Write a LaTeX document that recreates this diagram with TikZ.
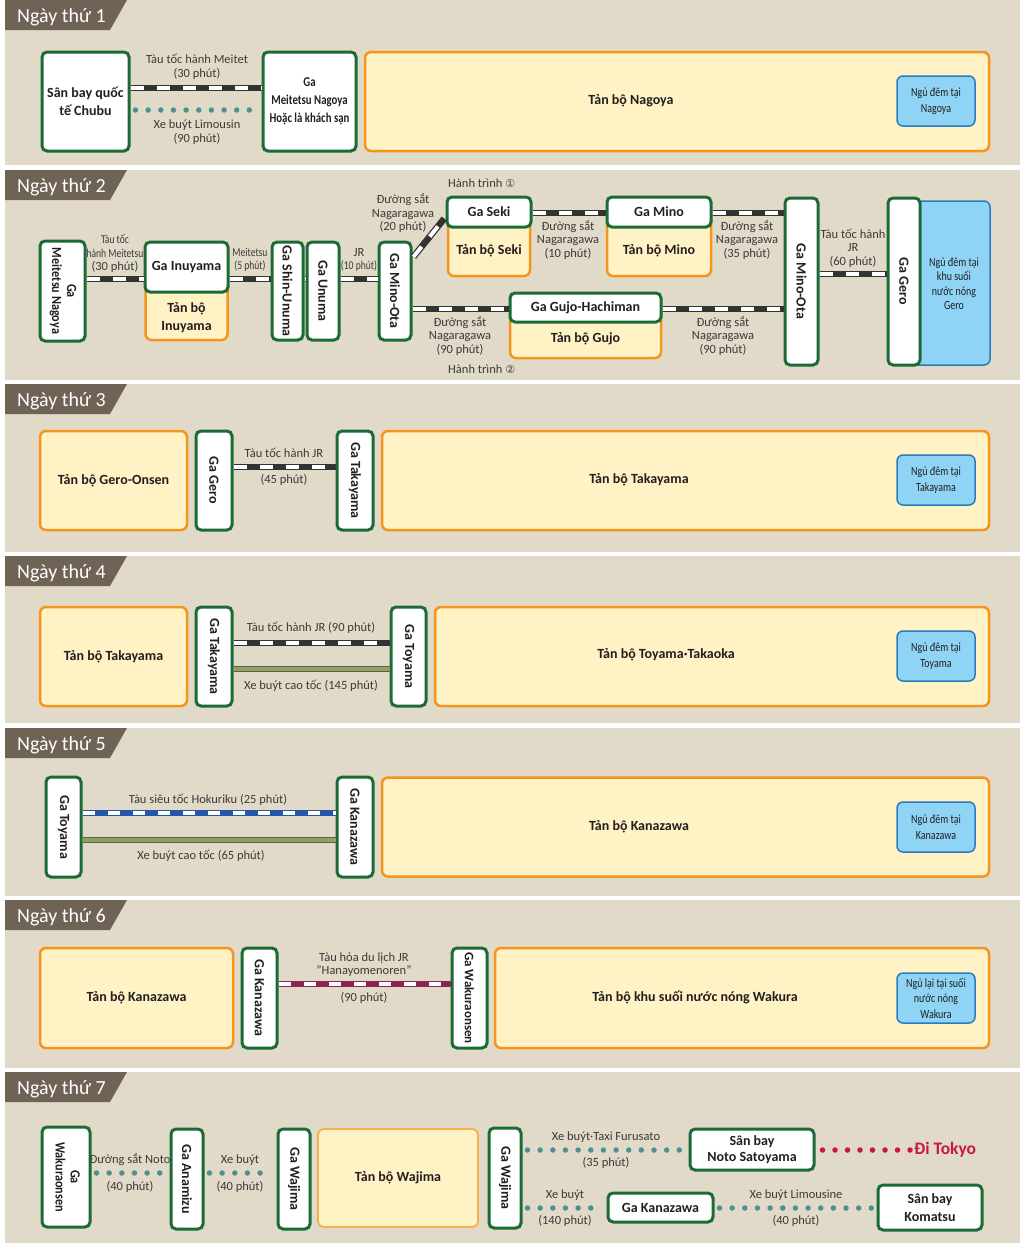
\documentclass[tikz,border=0pt]{standalone}
\usepackage{graphicx}
\usepackage{fontspec}
\setmainfont{Carlito}
\newfontfamily\condf[FakeStretch=0.8]{Carlito}
\newfontfamily\semif[FakeStretch=0.87]{Carlito}
\newfontfamily\symf{DejaVu Sans}
\definecolor{bandc}{HTML}{E2DAC8}
\definecolor{tabc}{HTML}{6E6354}
\definecolor{gr}{HTML}{1B6B37}
\definecolor{og}{HTML}{F7941D}
\definecolor{ogl}{HTML}{F5B04E}
\definecolor{oy}{HTML}{FFF2C5}
\definecolor{bl}{HTML}{8FD4F5}
\definecolor{bb}{HTML}{2B7BC0}
\definecolor{tx}{HTML}{231F20}
\definecolor{lt}{HTML}{3C3A3A}
\definecolor{rk}{HTML}{333333}
\definecolor{rbl}{HTML}{2457A7}
\definecolor{rmr}{HTML}{8B2452}
\definecolor{bgn}{HTML}{8FA35E}
\definecolor{bdk}{HTML}{5E5E52}
\definecolor{tl}{HTML}{4C918D}
\definecolor{rd}{HTML}{C8193D}
\newcommand\fst{\fontsize{14}{18}\selectfont\bfseries}
\newcommand\fstb{\fontsize{14}{16}\selectfont\bfseries}
\newcommand\fsc{\condf\fontsize{13.5}{18}\selectfont\bfseries}
\newcommand\flab{\fontsize{12.5}{13.5}\selectfont}
\newcommand\fcl{\condf\fontsize{12}{13.5}\selectfont}
\newcommand\fbl{\condf\fontsize{12.5}{15.5}\selectfont}
\newcommand\ftab{\fontsize{20}{24}\selectfont}
\newcommand\vt[1]{\rotatebox{-90}{#1}}
\newcommand\vtt[1]{\rotatebox{-90}{\semif\fontsize{14}{15}\selectfont\bfseries\begin{tabular}{@{}c@{}}#1\end{tabular}}}
\tikzset{
  stbox/.style={draw=gr, line width=3pt, fill=white, rounded corners=5pt, inner sep=0pt, align=center, font=\fst, text=tx},
  obox/.style={draw=og, line width=2.5pt, fill=oy, rounded corners=6pt, inner sep=0pt, align=center, font=\fst, text=tx},
  obox2/.style={draw=ogl, line width=1.8pt, fill=oy, rounded corners=6pt, inner sep=0pt, align=center, font=\fst, text=tx},
  otext/.style={font=\fst, text=tx, inner sep=0pt, align=center},
  bbox/.style={draw=bb, line width=1.5pt, fill=bl, rounded corners=6pt, inner sep=0pt, align=center, font=\fbl, text=tx, minimum width=78pt, minimum height=50pt},
  btext/.style={font=\fbl, text=tx, inner sep=0pt, align=center},
  lab/.style={font=\flab, text=lt, align=center, inner sep=0pt},
  tabt/.style={anchor=base west, text=white, font=\ftab, inner sep=0pt},
  rail/.style={draw=rk, line width=6.5pt, postaction={draw=white, line width=4pt, dash pattern=on 13pt off 13pt}},
  railb/.style={draw=rbl, line width=6.5pt, postaction={draw=white, line width=4pt, dash pattern=on 12.5pt off 12.5pt}},
  railm/.style={draw=rmr, line width=6.5pt, postaction={draw=white, line width=4pt, dash pattern=on 12.5pt off 12.5pt}},
  bus/.style={draw=bdk, line width=6pt, postaction={draw=bgn, line width=4pt}},
  dots/.style={draw=tl, line width=5.5pt, line cap=round, dash pattern=on 0pt off 12.65pt, shorten <=5pt, shorten >=4pt},
  rdots/.style={draw=rd, line width=5.5pt, line cap=round, dash pattern=on 0pt off 12.5pt, shorten <=7pt, shorten >=4pt},
  tokyo/.style={anchor=west, text=rd, font=\fontsize{17.5}{20}\selectfont\bfseries, inner sep=0pt}
}
\begin{document}
\begin{tikzpicture}[x=1pt,y=-1pt]
\useasboundingbox (0,0) rectangle (1027,1243);
\fill[white] (0,0) rectangle (1027,1243);
\foreach \a/\b in {0/165,170/380,384/552,556/723,728/896,900/1068,1072/1243}
  \fill[bandc] (5,\a) rectangle (1020,\b);
\foreach \a/\n in {0/1,170/2,384/3,556/4,728/5,900/6,1072/7}{
  \fill[tabc] (5,\a) -- (127,\a) -- (110,\a+30) -- (5,\a+30) -- cycle;
  \node[tabt] (tab\n) at (17,\a+22.5) {Ngày thứ \n};
}
% ---------------- Day 1
\node[stbox, minimum width=87pt, minimum height=99pt] (chubu) at (85.5,101.5) {Sân bay quốc\\tế Chubu};
\node[stbox, minimum width=93pt, minimum height=99pt, font=\fsc] (meit) at (309.5,101.5) {Ga\\Meitetsu Nagoya\\Hoặc là khách sạn};
\node[obox, minimum width=624pt, minimum height=99pt] (nag) at (677,101.5) {};
\node[otext] (nagT) at (631,101) {Tản bộ Nagoya};
\node[bbox] (bl1) at (936,101) {Ngủ đêm tại\\Nagoya};
\draw[rail] (chubu.east |- 0,88) -- (meit.west |- 0,88);
\draw[dots] (chubu.east |- 0,110) -- (meit.west |- 0,110);
\node[lab] (l1a) at (197,67) {Tàu tốc hành Meitet\\(30 phút)};
\node[lab] (l1b) at (197,132) {Xe buýt Limousin\\(90 phút)};
% ---------------- Day 2
\node[stbox, minimum width=45pt, minimum height=100pt] (mnag) at (62.5,291) {\vtt{Ga\\Meitetsu Nagoya}};
\node[obox, minimum width=82pt, minimum height=66pt] (inuyO) at (186.5,307) {};
\node[otext] (inuyT) at (186.5,317.5) {Tản bộ\\Inuyama};
\node[stbox, minimum width=83pt, minimum height=50pt] (inuy) at (186.5,267) {Ga Inuyama};
\node[stbox, minimum width=31pt, minimum height=98pt] (sunu) at (287.5,291) {\vt{Ga Shin-Unuma}};
\node[stbox, minimum width=32pt, minimum height=98pt] (unu) at (323,291) {\vt{Ga Unuma}};
\node[stbox, minimum width=32pt, minimum height=98pt] (mota1) at (395,291) {\vt{Ga Mino-Ota}};
\node[obox, minimum width=82pt, minimum height=66pt] (sekiO) at (489,243) {};
\node[otext] (sekiT) at (489,251) {Tản bộ Seki};
\node[stbox, minimum width=84pt, minimum height=30pt] (seki) at (489,212) {Ga Seki};
\node[obox, minimum width=104pt, minimum height=66pt] (minoO) at (659,243) {};
\node[otext] (minoT) at (659,251) {Tản bộ Mino};
\node[stbox, minimum width=104pt, minimum height=30pt] (mino) at (659,212) {Ga Mino};
\node[obox, minimum width=151pt, minimum height=52pt] (gujoO) at (585.5,332) {};
\node[otext] (gujoT) at (585.5,339) {Tản bộ Gujo};
\node[stbox, minimum width=151pt, minimum height=29pt] (gujo) at (585.5,307.5) {Ga Gujo-Hachiman};
\node[stbox, minimum width=33pt, minimum height=167pt] (mota2) at (801.5,281.5) {\vt{Ga Mino-Ota}};
\node[bbox, minimum width=85pt, minimum height=164pt] (blg) at (947.5,283) {};
\node[btext, font=\condf\fontsize{12.5}{14.5}\selectfont] (blgT) at (954,283.5) {Ngủ đêm tại\\khu suối\\nước nóng\\Gero};
\node[stbox, minimum width=32pt, minimum height=167pt] (gero2) at (904,281.5) {\vt{Ga Gero}};
\draw[rail] (mnag.east |- 0,279) -- (inuy.west |- 0,279);
\draw[rail] (inuy.east |- 0,279) -- (sunu.west |- 0,279);
\draw[rail] (sunu.east |- 0,279) -- (unu.west |- 0,279);
\draw[rail] (unu.east |- 0,279) -- (mota1.west |- 0,279);
\draw[rail, shorten <=1.5pt, shorten >=2pt] ([yshift=33pt]mota1.east) -- ([yshift=-5pt]seki.west);
\draw[rail] (seki.east |- 0,213) -- (mino.west |- 0,213);
\draw[rail] (mino.east |- 0,213) -- (mota2.west |- 0,213);
\draw[rail] (mota2.east |- 0,274) -- (gero2.west |- 0,274);
\draw[rail] (mota1.east |- 0,309) -- (gujo.west |- 0,309);
\draw[rail] (gujo.east |- 0,309) -- (mota2.west |- 0,309);
\node[lab] (l2a) at (115,253.5) {{\fcl Tàu tốc}\\{\fcl hành Meitetsu}\\(30 phút)};
\node[lab] (l2b) at (250,260) {{\fcl Meitetsu}\\{\fcl (5 phút)}};
\node[lab] (l2c) at (359,260) {JR\\{\fcl (10 phút)}};
\node[lab] (l2d) at (403,213.5) {Đường sắt\\Nagaragawa\\(20 phút)};
\node[lab] (l2e) at (568,240) {Đường sắt\\Nagaragawa\\(10 phút)};
\node[lab] (l2f) at (747,240) {Đường sắt\\Nagaragawa\\(35 phút)};
\node[lab] (l2g) at (853,248) {Tàu tốc hành\\JR\\(60 phút)};
\node[lab] (l2h) at (460,336) {Đường sắt\\Nagaragawa\\(90 phút)};
\node[lab] (l2i) at (723,336) {Đường sắt\\Nagaragawa\\(90 phút)};
\node[lab, anchor=west] (h1) at (448,183) {Hành trình {\symf\fontsize{11}{12}\selectfont ①}};
\node[lab, anchor=west] (h2) at (448,369) {Hành trình {\symf\fontsize{11}{12}\selectfont ②}};
% ---------------- Day 3
\node[obox, minimum width=147pt, minimum height=99pt] (geroO) at (113.5,480.5) {Tản bộ Gero-Onsen};
\node[stbox, minimum width=36pt, minimum height=99pt] (gero3) at (214,480.5) {\vt{Ga Gero}};
\node[stbox, minimum width=36pt, minimum height=99pt] (taka3) at (355,480.5) {\vt{Ga Takayama}};
\node[obox, minimum width=607pt, minimum height=99pt] (takaO3) at (685.5,480.5) {};
\node[otext] (takaT3) at (639,480) {Tản bộ Takayama};
\node[bbox] (bl3) at (936,480) {Ngủ đêm tại\\Takayama};
\draw[rail] (gero3.east |- 0,467) -- (taka3.west |- 0,467);
\node[lab] (l3a) at (284,453) {Tàu tốc hành JR};
\node[lab] (l3b) at (284,480) {(45 phút)};
% ---------------- Day 4
\node[obox, minimum width=147pt, minimum height=99pt] (takaO4) at (113.5,656.5) {Tản bộ Takayama};
\node[stbox, minimum width=36pt, minimum height=99pt] (taka4) at (214,656.5) {\vt{Ga Takayama}};
\node[stbox, minimum width=35pt, minimum height=99pt] (toya4) at (408.5,656.5) {\vt{Ga Toyama}};
\node[obox, minimum width=554pt, minimum height=99pt] (toyaO) at (712,656.5) {};
\node[otext] (toyaT) at (666,655) {Tản bộ Toyama·Takaoka};
\node[bbox] (bl4) at (936,656) {Ngủ đêm tại\\Toyama};
\draw[rail] (taka4.east |- 0,643) -- (toya4.west |- 0,643);
\draw[bus] (taka4.east |- 0,669) -- (toya4.west |- 0,669);
\node[lab] (l4a) at (311,628) {Tàu tốc hành JR (90 phút)};
\node[lab] (l4b) at (311,686) {Xe buýt cao tốc (145 phút)};
% ---------------- Day 5
\node[stbox, minimum width=35pt, minimum height=100pt] (toya5) at (63.5,827) {\vt{Ga Toyama}};
\node[stbox, minimum width=36pt, minimum height=100pt] (kana5) at (355,827) {\vt{Ga Kanazawa}};
\node[obox, minimum width=607pt, minimum height=99pt] (kanaO5) at (685.5,827) {};
\node[otext] (kanaT5) at (639,827) {Tản bộ Kanazawa};
\node[bbox] (bl5) at (936,827) {Ngủ đêm tại\\Kanazawa};
\draw[railb] (toya5.east |- 0,813) -- (kana5.west |- 0,813);
\draw[bus] (toya5.east |- 0,840) -- (kana5.west |- 0,840);
\node[lab] (l5a) at (208,800) {Tàu siêu tốc Hokuriku (25 phút)};
\node[lab] (l5b) at (201,856) {Xe buýt cao tốc (65 phút)};
% ---------------- Day 6
\node[obox, minimum width=193pt, minimum height=100pt] (kanaO6) at (136.5,998) {Tản bộ Kanazawa};
\node[stbox, minimum width=35pt, minimum height=100pt] (kana6) at (259.5,998) {\vt{Ga Kanazawa}};
\node[stbox, minimum width=35pt, minimum height=100pt] (waku6) at (469.5,998) {\vt{\fontsize{13}{15}\selectfont Ga Wakuraonsen}};
\node[obox, minimum width=494pt, minimum height=100pt] (wakuO) at (742,998) {};
\node[otext] (wakuT) at (695,997) {Tản bộ khu suối nước nóng Wakura};
\node[bbox] (bl6) at (936,998) {Ngủ lại tại suối\\nước nóng\\Wakura};
\draw[railm] (kana6.east |- 0,984) -- (waku6.west |- 0,984);
\node[lab] (l6a) at (364,964.5) {Tàu hỏa du lịch JR\\"Hanayomenoren"};
\node[lab] (l6b) at (364,998) {(90 phút)};
% ---------------- Day 7
\node[lab] (l7a) at (130,1160) {Đường sắt Noto};
\node[stbox, minimum width=48pt, minimum height=100pt] (waku7) at (66,1177) {\vtt{Ga\\Wakuraonsen}};
\node[stbox, minimum width=32pt, minimum height=100pt] (anam) at (187,1179) {\vt{Ga Anamizu}};
\node[stbox, minimum width=32pt, minimum height=100pt] (waj1) at (294,1179) {\vt{Ga Wajima}};
\node[obox2, minimum width=160pt, minimum height=98pt] (wajO) at (398,1178) {Tản bộ Wajima};
\node[stbox, minimum width=32pt, minimum height=100pt] (waj2) at (505,1178) {\vt{Ga Wajima}};
\node[stbox, minimum width=124pt, minimum height=41pt, font=\fstb] (noto) at (752,1149.5) {Sân bay\\Noto Satoyama};
\node[stbox, minimum width=105pt, minimum height=29pt] (kana7) at (660.5,1207.5) {Ga Kanazawa};
\node[stbox, minimum width=104pt, minimum height=45pt] (koma) at (930,1207.5) {Sân bay\\Komatsu};
\node[tokyo] (tokyo) at (914,1150) {Đi Tokyo};
\draw[dots] (waku7.east |- 0,1173) -- (anam.west |- 0,1173);
\draw[dots] (anam.east |- 0,1173) -- (waj1.west |- 0,1173);
\draw[dots] (waj2.east |- 0,1150) -- (noto.west |- 0,1150);
\draw[rdots] (noto.east |- 0,1150) -- (tokyo.west);
\draw[dots] (waj2.east |- 0,1208) -- (kana7.west |- 0,1208);
\draw[dots] (kana7.east |- 0,1208) -- (koma.west |- 0,1208);
\node[lab] (l7b) at (130,1187) {(40 phút)};
\node[lab] (l7c) at (240,1160) {Xe buýt};
\node[lab] (l7d) at (240,1187) {(40 phút)};
\node[lab] (l7e) at (606,1137) {Xe buýt·Taxi Furusato};
\node[lab] (l7f) at (606,1163) {(35 phút)};
\node[lab] (l7g) at (565,1195) {Xe buýt};
\node[lab] (l7h) at (565,1221) {(140 phút)};
\node[lab] (l7i) at (796,1195) {Xe buýt Limousine};
\node[lab] (l7j) at (796,1221) {(40 phút)};
\end{tikzpicture}
\end{document}
